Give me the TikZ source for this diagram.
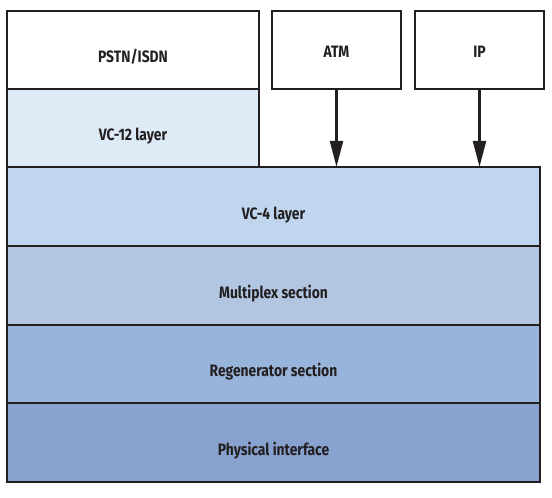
\documentclass[tikz,border=0pt]{standalone}
\usepackage{fontspec}
\setmainfont{Fira Sans}[FakeStretch=0.84,BoldFont={* Bold}]
\usetikzlibrary{arrows.meta}
\definecolor{ink}{RGB}{35,31,32}
\definecolor{cvctwelve}{RGB}{221,235,247}
\definecolor{cvcfour}{RGB}{191,214,238}
\definecolor{cmux}{RGB}{178,198,226}
\definecolor{cregen}{RGB}{152,180,218}
\definecolor{cphys}{RGB}{135,162,206}
\newcommand{\lowtext}[1]{\raisebox{-12.5pt}[0pt][0pt]{#1}}
\newcommand{\toptext}[1]{\raisebox{-7.5pt}[0pt][0pt]{#1}}
\tikzset{
  layer/.style={draw=ink, line width=2.2pt, inner sep=0pt, font=\fontsize{16.5}{19}\selectfont\bfseries, text=ink},
  feed/.style={draw=ink, line width=2.2pt, -{Triangle[length=26pt,width=13pt]}, shorten >=-1pt}
}
\begin{document}
\begin{tikzpicture}[x=1pt,y=-1pt]
\useasboundingbox (0,0) rectangle (552,498);
\node[layer, fill=white, minimum width=252pt, minimum height=78pt] (pstn) at (133,50) {\lowtext{PSTN/ISDN}};
\node[layer, fill=cvctwelve, minimum width=252pt, minimum height=78pt] (vc12) at (133,128) {\lowtext{VC-12 layer}};
\node[layer, fill=white, minimum width=129pt, minimum height=78pt] (atm) at (336.5,50) {\toptext{ATM}};
\node[layer, fill=white, minimum width=129pt, minimum height=78pt] (ip) at (479.5,50) {\toptext{IP}};
\node[layer, fill=cvcfour, minimum width=533pt, minimum height=79pt] (vc4) at (273.5,206.5) {\lowtext{VC-4 layer}};
\node[layer, fill=cmux, minimum width=533pt, minimum height=79pt] (mux) at (273.5,285.5) {\lowtext{Multiplex section}};
\node[layer, fill=cregen, minimum width=533pt, minimum height=78pt] (regen) at (273.5,364) {\lowtext{Regenerator section}};
\node[layer, fill=cphys, minimum width=533pt, minimum height=79pt] (phys) at (273.5,442.5) {\lowtext{Physical interface}};
\draw[feed] (atm.south) -- (atm.south |- vc4.north);
\draw[feed] (ip.south) -- (ip.south |- vc4.north);
\end{tikzpicture}
\end{document}
